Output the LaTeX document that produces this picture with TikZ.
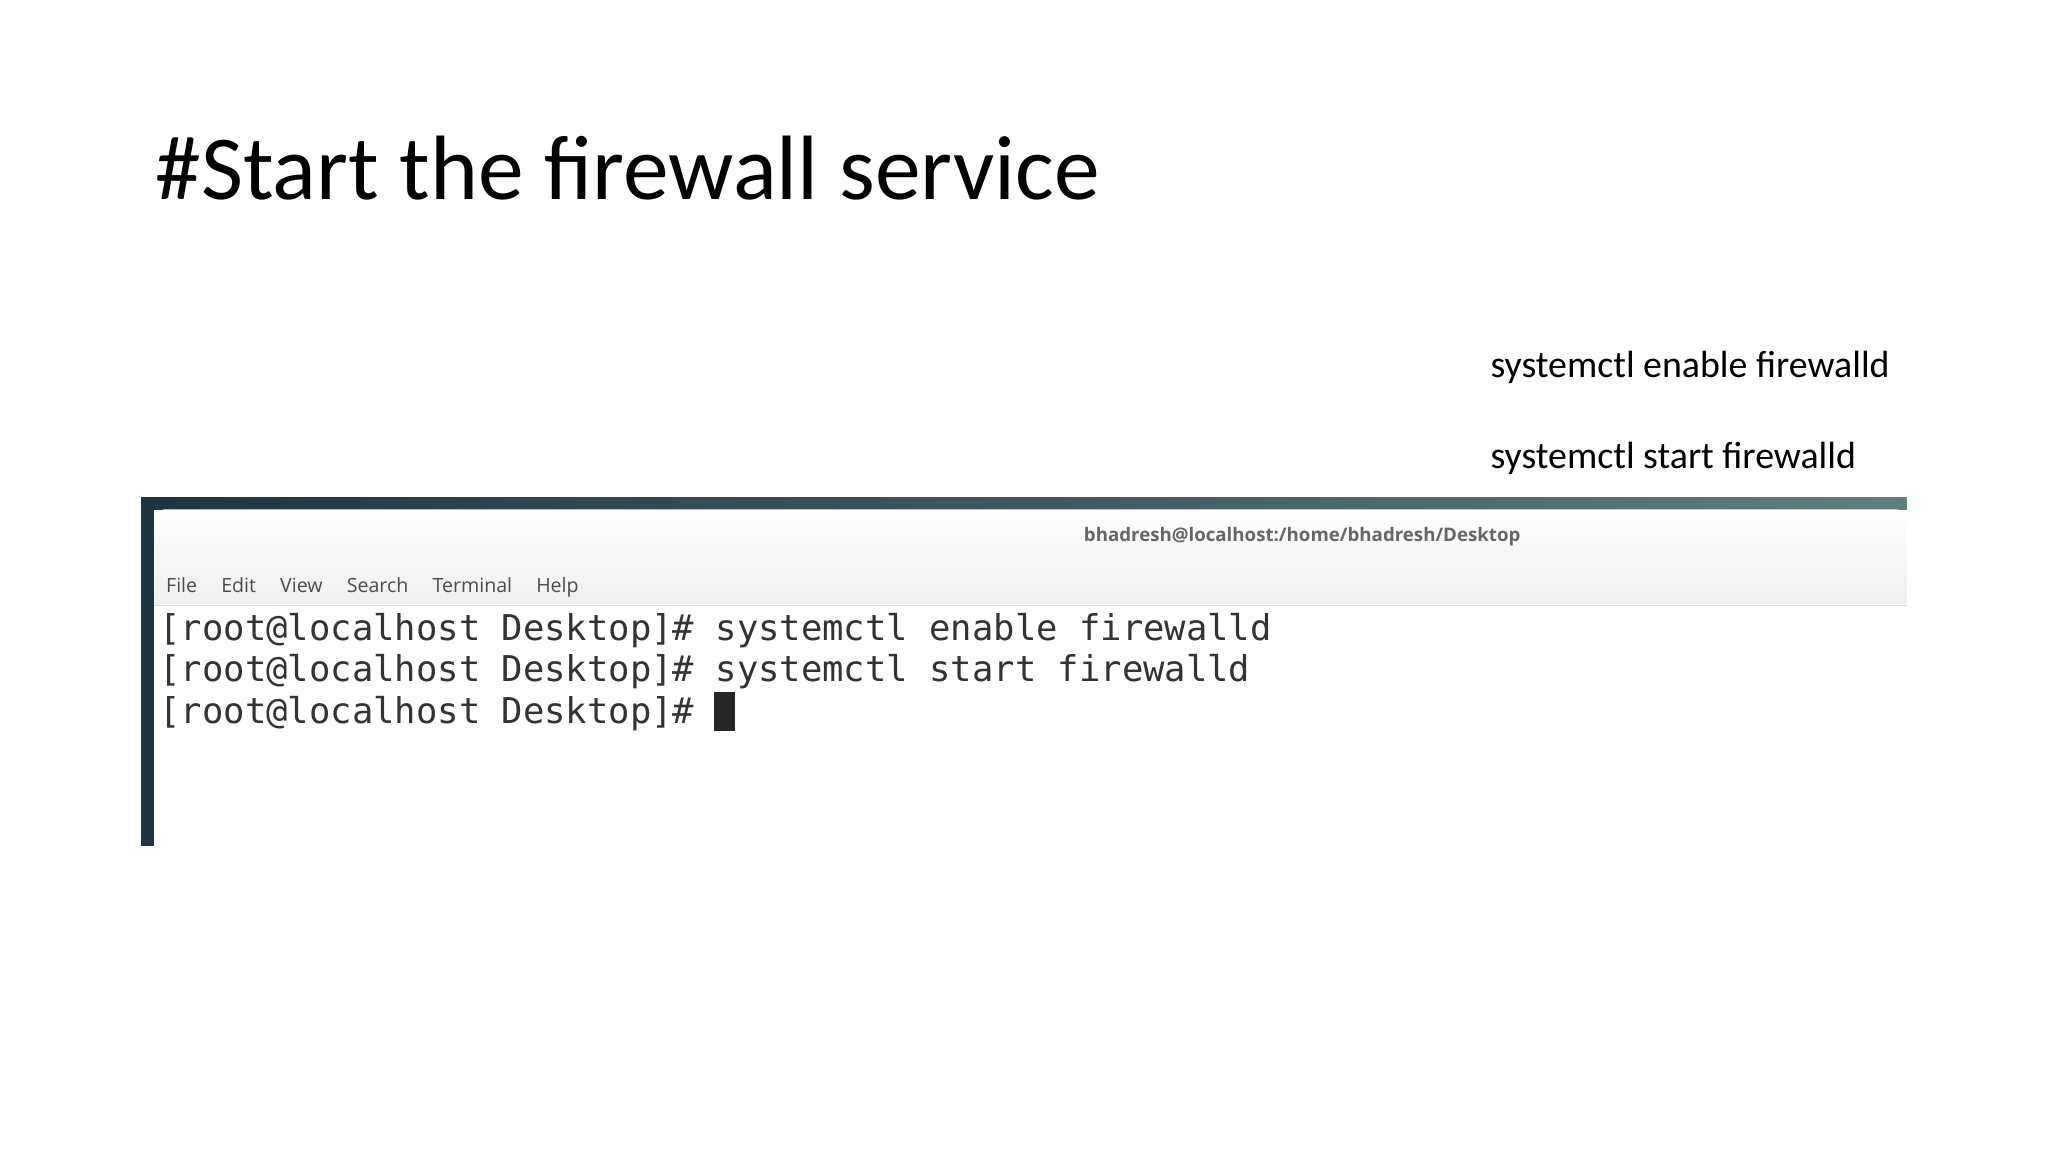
\documentclass[tikz,border=0pt]{standalone}
\usepackage{fontspec}
\setmainfont{Carlito}
\newfontfamily\mono{DejaVu Sans Mono}
\newfontfamily\ui{Open Sans}
\definecolor{frameA}{HTML}{1E3442}
\definecolor{frameB}{HTML}{3E6A68}
\definecolor{frameC}{HTML}{5E7F7C}
\begin{document}
\begin{tikzpicture}[x=1pt,y=-1pt,
  txt/.style={anchor=base west,inner sep=0pt},
  term/.style={txt,font=\mono\fontsize{27.2}{30}\selectfont,text=black!80}]
\useasboundingbox (0,0) rectangle (1568,882);
\fill[white] (0,0) rectangle (1568,882);
\node[txt,font=\fontsize{70}{76}\selectfont] (title) at (119,153) {\#Start the firewall service};
\node[txt,font=\fontsize{29}{32}\selectfont] (c1) at (1141,289) {systemctl enable firewalld};
\node[txt,font=\fontsize{29}{32}\selectfont] (c2) at (1141,359) {systemctl start firewalld};
% frame
\shade[left color=frameA, middle color=frameB, right color=frameC] (108,381) rectangle (1460,390);
\fill[frameA] (108,381) rectangle (118,648);
\shade[top color=white,bottom color=black!6] (118,400) [rounded corners=8pt] -- (118,390) -- (1460,390) [sharp corners] -- (1460,463) -- (118,463) -- cycle;
\fill[white] (118,464) rectangle (1460,648);
\draw[black!15] (118,463.5) -- (1460,463.5);
\node[anchor=center,font=\ui\bfseries\fontsize{14.3}{17}\selectfont,text=black!60] (tb) at (997,411) {bhadresh@localhost:/home/bhadresh/Desktop};
\node[txt,font=\ui\fontsize{15}{18}\selectfont,text=black!70] (menu) at (127,454) {File\hspace{18.5pt}Edit\hspace{18.5pt}View\hspace{18.5pt}Search\hspace{18.5pt}Terminal\hspace{18.5pt}Help};
\node[term] (l1) at (122,490) {[root@localhost Desktop]\# systemctl enable firewalld};
\node[term] (l2) at (122,522) {[root@localhost Desktop]\# systemctl start firewalld};
\node[term] (l3) at (122,554) {[root@localhost Desktop]\#};
\fill[black!85] (547,530) rectangle (563,560);
\end{tikzpicture}
\end{document}
